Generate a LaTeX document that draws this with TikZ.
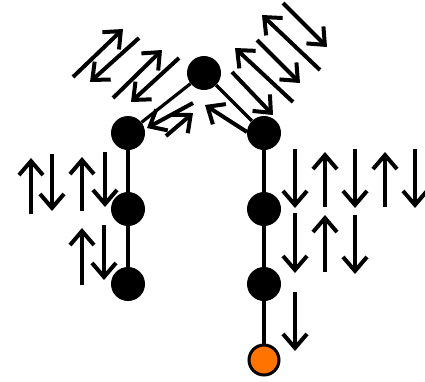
\documentclass[tikz,border=0pt]{standalone}
\usetikzlibrary{arrows.meta}

\definecolor{siteorange}{RGB}{255,115,0}

\begin{document}
\begin{tikzpicture}[x=1pt,y=-1pt,
  site/.style={circle,fill=black,minimum size=34pt,inner sep=0pt},
  edge/.style={line width=3.2pt},
  spin/.style={line width=4pt,-{Straight Barb[length=14pt,width=24pt]}}]
\useasboundingbox (0,0) rectangle (425,381);
% sites
\node[site] (root) at (204,73) {};
\node[site] (l1) at (128,133) {};
\node[site] (l2) at (128,209) {};
\node[site] (l3) at (128,284) {};
\node[site] (r1) at (264,133) {};
\node[site] (r2) at (264,209) {};
\node[site] (r3) at (264,284) {};
\node[site,fill=siteorange,draw=black,line width=3pt,minimum size=30pt] (r4) at (264,360) {};
% bonds
\draw[edge] (root) -- (l1);
\draw[edge] (root) -- (r1);
\draw[edge] (l1) -- (l2) -- (l3);
\draw[edge] (r1) -- (r2) -- (r3) -- (r4);
% spins, left chain
\draw[spin] (31,214) -- (31,158);
\draw[spin] (52,154) -- (52,211);
\draw[spin] (82,211) -- (82,157);
\draw[spin] (105,152) -- (105,207);
\draw[spin] (82,285) -- (82,228);
\draw[spin] (104,225) -- (104,280);
% spins, right chain
\foreach \x in {295,355,415} \draw[spin] (\x,149) -- (\x,208);
\foreach \x in {325,385} \draw[spin] (\x,207) -- (\x,152);
\draw[spin] (295,213) -- (295,273);
\draw[spin] (325,272) -- (325,215);
\draw[spin] (355,215) -- (355,274);
\draw[spin] (295,292) -- (295,351);
% spins, top left
\draw[spin] (73,77) -- (123,29);
\draw[spin] (139,38) -- (90,82);
\draw[spin] (113,98) -- (162,50);
\draw[spin] (179,58) -- (131,102);
\draw[spin] (193,103) -- (147,128);
\draw[spin] (166,136) -- (193,113);
% spins, top right
\draw[spin] (232,72) -- (273,115);
\draw[spin] (293,102) -- (235,48);
\draw[spin] (257,40) -- (300,83);
\draw[spin] (320,70) -- (262,15);
\draw[spin] (283,3) -- (327,47);
\draw[spin] (247,132) -- (205,105);
\end{tikzpicture}
\end{document}
